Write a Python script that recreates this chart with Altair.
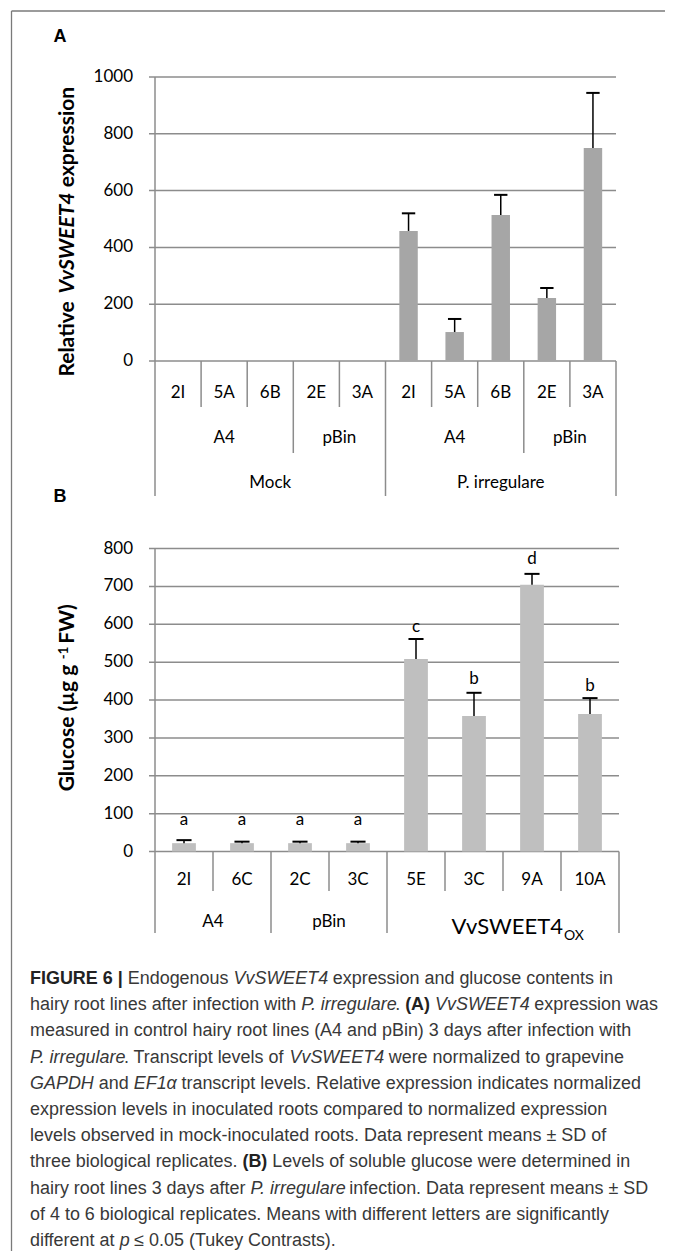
import altair as alt
import pandas as pd

# ---------------- data: panel A ----------------
a_lines = ["2I", "5A", "6B", "2E", "3A", "2I", "5A", "6B", "2E", "3A"]
a_construct = ["A4", "pBin", "A4", "pBin"]
a_construct_sizes = [3, 2, 3, 2]
a_treatment = ["Mock", "P. irregulare"]
a_treatment_sizes = [5, 5]
a_mean = [0, 0, 0, 0, 0, 458, 102, 514, 222, 750]
a_sd = [0, 0, 0, 0, 0, 62, 46, 71, 35, 194]
a_ticks = [0, 200, 400, 600, 800, 1000]

# ---------------- data: panel B ----------------
b_lines = ["2I", "6C", "2C", "3C", "5E", "3C", "9A", "10A"]
b_groups = ["A4", "pBin", "VvSWEET4"]
b_group_sub = ["", "", "OX"]
b_group_sizes = [2, 2, 4]
b_mean = [22, 22, 22, 22, 508, 358, 704, 363]
b_sd = [8, 4, 4, 4, 53, 61, 29, 42]
b_letters = ["a", "a", "a", "a", "c", "b", "d", "b"]
b_letter_y = [83, 83, 83, 83, 593, 455, 772, 437]
b_ticks = [0, 100, 200, 300, 400, 500, 600, 700, 800]

# ---------------- caption text ----------------
caption_lines = [
    [("FIGURE 6 | ", "b"), ("Endogenous ", "r"), ("VvSWEET4", "i"), (" expression and glucose contents in", "r")],
    [("hairy root lines after infection with ", "r"), ("P. irregulare", "i"), (". ", "r"), ("(A)", "b"), (" ", "r"), ("VvSWEET4", "i"), (" expression was", "r")],
    [("measured in control hairy root lines (A4 and pBin) 3 days after infection with", "r")],
    [("P. irregulare", "i"), (". Transcript levels of ", "r"), ("VvSWEET4", "i"), (" were normalized to grapevine", "r")],
    [("GAPDH", "i"), (" and ", "r"), ("EF1\u03b1", "i"), (" transcript levels. Relative expression indicates normalized", "r")],
    [("expression levels in inoculated roots compared to normalized expression", "r")],
    [("levels observed in mock-inoculated roots. Data represent means \u00b1 SD of", "r")],
    [("three biological replicates. ", "r"), ("(B)", "b"), (" Levels of soluble glucose were determined in", "r")],
    [("hairy root lines 3 days after ", "r"), ("P. irregulare", "i"), (" infection. Data represent means \u00b1 SD", "r")],
    [("of 4 to 6 biological replicates. Means with different letters are significantly", "r")],
    [("different at ", "r"), ("p", "i"), (" \u2264 0.05 (Tukey Contrasts).", "r")],
]

# ---------------- layout / style ----------------
W, H = 657, 1243
FONT = "Lato"
CAP_FONT = "Liberation Sans"
GRID_C = "#8c8c8c"
GRID_W = 1.5
A_X, A_Y = [147, 608], [353, 69]
B_X, B_Y = [147, 611], [843.5, 540.5]

# Arial / Liberation Sans advance widths (1/1000 em)
REG = {" ": 278, "(": 333, ")": 333, ",": 278, "-": 333, ".": 278, "|": 260,
       "\u00b1": 584, "\u2264": 549, "\u03b1": 578}
for ch in "0123456789":
    REG[ch] = 556
REG.update(dict(zip("ABCDEFGHIJKLMNOPQRSTUVWXYZ",
                    [667, 667, 722, 722, 667, 611, 778, 722, 278, 500, 667, 556, 833,
                     722, 778, 667, 778, 722, 667, 611, 722, 667, 944, 667, 667, 611])))
REG.update(dict(zip("abcdefghijklmnopqrstuvwxyz",
                    [556, 556, 500, 556, 556, 278, 556, 556, 222, 222, 500, 222, 833,
                     556, 556, 556, 556, 333, 500, 278, 556, 500, 722, 500, 500, 500])))
BOLD = dict(REG)
BOLD.update({"A": 722, "B": 722, "R": 722, "U": 722, "|": 280})


def seg_w(text, style):
    tbl = BOLD if style == "b" else REG
    total = 0
    for ch in text:
        w = tbl.get(ch, 556)
        if style == "i" and ch.islower():
            w *= 0.95
        total += w
    return total / 1000.0


def centers(sizes):
    out, s = [], 0
    for m in sizes:
        out.append(s + m / 2)
        s += m
    return out


def build_panel(lines, mean, sd, ticks, color, xr, yr, bar_half, cap_half,
                div_levels, line_row_y, group_rows, letters=None, letter_y=None):
    n = len(lines)
    xs = alt.Scale(domain=[0, n], range=xr, nice=False, zero=False)
    ys = alt.Scale(domain=[ticks[0], ticks[-1]], range=yr, nice=False, zero=False)

    def X(f):
        return alt.X(f, scale=xs, axis=None)

    def Y(f):
        return alt.Y(f, scale=ys, axis=None)

    df = pd.DataFrame({"c": [i + 0.5 for i in range(n)], "mean": mean, "sd": sd, "line": lines})
    df["x0"] = df["c"] - bar_half
    df["x1"] = df["c"] + bar_half
    df["top"] = df["mean"] + df["sd"]
    df["k0"] = df["c"] - cap_half
    df["k1"] = df["c"] + cap_half
    df["zero"] = 0

    tick_ext = 6.0 / ((xr[1] - xr[0]) / n)   # 6 px tick marks, in data units
    grid = pd.DataFrame({"v": ticks, "l": -tick_ext, "r": n, "o": 0,
                         "lab": [str(t) for t in ticks]})
    layers = [
        alt.Chart(grid).mark_rule(color=GRID_C, strokeWidth=GRID_W).encode(
            x=X("l:Q"), x2="r:Q", y=Y("v:Q")),
        alt.Chart(grid).mark_text(font=FONT, fontSize=17, align="right", baseline="middle",
                                  dx=-22, color="#000000").encode(
            x=X("o:Q"), y=Y("v:Q"), text="lab:N"),
        alt.Chart(pd.DataFrame({"o": [0], "y0": [ticks[0]], "y1": [ticks[-1]]})).mark_rule(
            color=GRID_C, strokeWidth=GRID_W).encode(x=X("o:Q"), y=Y("y0:Q"), y2="y1:Q"),
        alt.Chart(df).mark_rect(color=color).encode(
            x=X("x0:Q"), x2="x1:Q", y=Y("zero:Q"), y2="mean:Q"),
    ]
    eb = df[df["sd"] > 0]
    layers.append(alt.Chart(eb).mark_rule(color="#000000", strokeWidth=1.5).encode(
        x=X("c:Q"), y=Y("mean:Q"), y2="top:Q"))
    layers.append(alt.Chart(eb).mark_rule(color="#000000", strokeWidth=2).encode(
        x=X("k0:Q"), x2="k1:Q", y=Y("top:Q")))

    # category dividers
    assigned = {}
    for sizes, end in div_levels:
        s = 0
        bset = [0]
        for m in sizes:
            s += m
            bset.append(s)
        for k in bset:
            assigned.setdefault(k, end)
    for end in sorted(set(assigned.values())):
        d = pd.DataFrame({"k": [k for k, e in assigned.items() if e == end]})
        d["zero"] = 0
        layers.append(alt.Chart(d).mark_rule(color=GRID_C, strokeWidth=GRID_W).encode(
            x=X("k:Q"), y=Y("zero:Q"), y2=alt.value(end)))

    # category labels
    layers.append(alt.Chart(df).mark_text(font=FONT, fontSize=17, baseline="middle", color="#000000").encode(
        x=X("c:Q"), y=alt.value(line_row_y), text="line:N"))
    for names, sizes, ypx in group_rows:
        g = pd.DataFrame({"c": centers(sizes), "t": names})
        g = g[g["t"] != ""]
        layers.append(alt.Chart(g).mark_text(font=FONT, fontSize=17, baseline="middle", color="#000000").encode(
            x=X("c:Q"), y=alt.value(ypx), text="t:N"))

    if letters is not None:
        ldf = pd.DataFrame({"c": df["c"], "t": letters, "ly": letter_y})
        layers.append(alt.Chart(ldf).mark_text(font=FONT, fontSize=17, baseline="middle", color="#000000").encode(
            x=X("c:Q"), y=Y("ly:Q"), text="t:N"))
    return layers, xs, ys


# ---------------- panel A ----------------
layersA, xsA, ysA = build_panel(
    a_lines, a_mean, a_sd, a_ticks, "#a6a6a6", A_X, A_Y, 0.2, 0.145,
    [(a_treatment_sizes, 488), (a_construct_sizes, 445), ([1] * len(a_lines), 399)],
    385,
    [(a_construct, a_construct_sizes, 430), (a_treatment, a_treatment_sizes, 475)],
)
panelA = alt.layer(*layersA)

# ---------------- panel B ----------------
layersB, xsB, ysB = build_panel(
    b_lines, b_mean, b_sd, b_ticks, "#bfbfbf", B_X, B_Y, 0.205, 0.13,
    [(b_group_sizes, 925), ([1] * len(b_lines), 883)],
    872,
    [([nm if sb == "" else "" for nm, sb in zip(b_groups, b_group_sub)], b_group_sizes, 914)],
    letters=b_letters, letter_y=b_letter_y,
)
vdf = pd.DataFrame({"c": centers(b_group_sizes), "t": b_groups, "s": b_group_sub})
vdf = vdf[vdf["s"] != ""]
layersB.append(alt.Chart(vdf).mark_text(font=FONT, fontSize=22, align="right", baseline="middle", dx=60, color="#000000").encode(
    x=alt.X("c:Q", scale=xsB, axis=None), y=alt.value(918.5), text="t:N"))
layersB.append(alt.Chart(vdf).mark_text(font=FONT, fontSize=14, align="left", baseline="middle", dx=61, color="#000000").encode(
    x=alt.X("c:Q", scale=xsB, axis=None), y=alt.value(928), text="s:N"))
panelB = alt.layer(*layersB)


# ---------------- titles, panel letters, frame ----------------
def label(text, x, y, size, weight="bold", style="normal", align="center", angle=0,
          baseline="middle", font=FONT, color="#000000"):
    kw = dict(font=font, fontSize=size, fontWeight=weight, fontStyle=style, align=align,
              baseline=baseline, color=color)
    if angle:
        kw["angle"] = angle
    return alt.Chart(pd.DataFrame({"t": [text]})).mark_text(**kw).encode(
        x=alt.value(x), y=alt.value(y), text="t:N")


titles = [
    label("A", 52, 29, 18, font=CAP_FONT),
    label("B", 52, 489, 18, font=CAP_FONT),
    label("Relative", 66, 331, 21, angle=270, baseline="alphabetic"),
    label("VvSWEET4", 66, 235, 21, style="italic", angle=270, baseline="alphabetic"),
    label("expression", 66, 129, 21, angle=270, baseline="alphabetic"),
    label("Glucose  (\u00b5g g", 66, 720, 21, angle=270, baseline="alphabetic"),
    label("-1", 60, 645, 13, angle=270, baseline="alphabetic"),
    label("FW)", 66, 616, 21, angle=270, baseline="alphabetic"),
]

one = pd.DataFrame({"a": [0]})
frame = [
    alt.Chart(one).mark_rule(color="#7a7a7a", strokeWidth=1.3).encode(
        x=alt.value(3.5), y=alt.value(3), y2=alt.value(H)),
    alt.Chart(one).mark_rule(color="#7a7a7a", strokeWidth=1.3).encode(
        x=alt.value(661), y=alt.value(3), y2=alt.value(H)),
    alt.Chart(one).mark_rule(color="#7a7a7a", strokeWidth=1.3).encode(
        x=alt.value(3.5), x2=alt.value(661), y=alt.value(3)),
]

# ---------------- caption ----------------
line1_em = sum(seg_w(t, s) for t, s in caption_lines[0])
CAP_FS = 583.0 / line1_em
rows = []
for li, segs in enumerate(caption_lines):
    xpos = 22.0
    ypos = 971.0 + 26.2 * li
    for t, s in segs:
        lead = len(t) - len(t.lstrip(" "))
        txt = t.strip(" ")
        if txt:
            rows.append({"x": xpos + seg_w(" " * lead, s) * CAP_FS, "y": ypos, "t": txt, "s": s})
        xpos += seg_w(t, s) * CAP_FS
cap = pd.DataFrame(rows)
cap_layers = []
for s, weight, style, col in [("r", "normal", "normal", "#383838"),
                              ("i", "normal", "italic", "#383838"),
                              ("b", "bold", "normal", "#222222")]:
    d = cap[cap["s"] == s]
    cap_layers.append(alt.Chart(d).mark_text(
        font=CAP_FONT, fontSize=CAP_FS, fontWeight=weight, fontStyle=style,
        align="left", baseline="middle", color=col).encode(
        x=alt.X("x:Q", scale=None, axis=None), y=alt.Y("y:Q", scale=None, axis=None), text="t:N"))

chart = alt.layer(*frame, panelA, panelB, *titles, *cap_layers).resolve_scale(
    x="independent", y="independent"
).properties(
    width=W, height=H, padding=0, autosize=alt.AutoSizeParams(type="none")
).configure_view(stroke="transparent")

chart.save("out.html", embed_options={"renderer": "svg", "actions": False})
